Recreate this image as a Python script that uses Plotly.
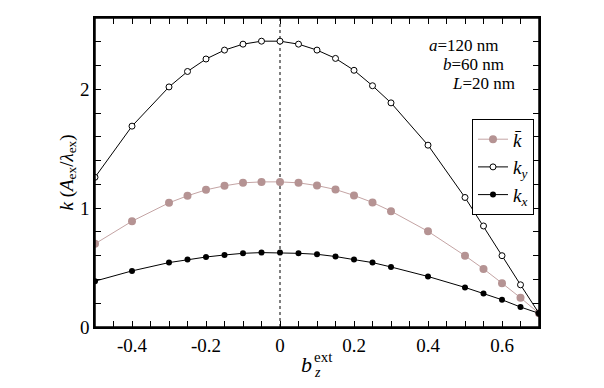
import plotly.graph_objects as go

bz = [-0.5, -0.4, -0.3, -0.25, -0.2, -0.15, -0.1, -0.05, 0.0, 0.05, 0.1, 0.15,
      0.2, 0.25, 0.3, 0.4, 0.5, 0.55, 0.6, 0.65, 0.7]
k_bar = [0.70, 0.89, 1.045, 1.104, 1.154, 1.188, 1.213, 1.221, 1.221, 1.213, 1.19, 1.157,
         1.107, 1.048, 0.975, 0.805, 0.60, 0.489, 0.369, 0.246, 0.115]
k_y = [1.26, 1.69, 2.02, 2.15, 2.255, 2.33, 2.38, 2.405, 2.405, 2.38, 2.33, 2.26,
       2.16, 2.03, 1.886, 1.53, 1.09, 0.85, 0.60, 0.355, 0.115]
k_x = [0.386, 0.472, 0.542, 0.567, 0.589, 0.606, 0.62, 0.626, 0.626, 0.62, 0.612, 0.593,
       0.567, 0.542, 0.505, 0.425, 0.333, 0.282, 0.229, 0.168, 0.115]

# tick positions (every 0.05 on x, every 0.2 on y); labels only on the major ones
x_tickvals = [-0.45, -0.4, -0.35, -0.3, -0.25, -0.2, -0.15, -0.1, -0.05, 0, 0.05, 0.1,
              0.15, 0.2, 0.25, 0.3, 0.35, 0.4, 0.45, 0.5, 0.55, 0.6, 0.65]
x_ticktext = ["", "-0.4", "", "", "", "-0.2", "", "", "", "0", "", "",
              "", "0.2", "", "", "", "0.4", "", "", "", "0.6", ""]
y_tickvals = [0, 0.2, 0.4, 0.6, 0.8, 1, 1.2, 1.4, 1.6, 1.8, 2, 2.2, 2.4]
y_ticktext = ["0", "", "", "", "", "1", "", "", "", "", "2", "", ""]

SERIF = "Liberation Serif"

# page has an 8px body margin; the figure is sized to fit inside 604x388
PAGE_OFF = 8
L, T, PW, PH = 95 - PAGE_OFF, 16 - PAGE_OFF, 444, 311
W, H = 604 - 2 * PAGE_OFF, 388 - 2 * PAGE_OFF


def px(xp):
    return (xp - 95) / PW


def py(yp):
    return (327 - yp) / PH


fig = go.Figure()
fig.add_trace(go.Scatter(
    x=bz, y=k_bar, mode="lines+markers", name="<i>k̄</i>",
    line=dict(color="#c4a4a4", width=1),
    marker=dict(color="#b59393", size=8, line=dict(width=0)),
))
fig.add_trace(go.Scatter(
    x=bz, y=k_y, mode="lines+markers", name="<i>k<sub>y</sub></i>",
    line=dict(color="black", width=1),
    marker=dict(color="white", size=6, symbol="circle", line=dict(color="black", width=1)),
))
fig.add_trace(go.Scatter(
    x=bz, y=k_x, mode="lines+markers", name="<i>k<sub>x</sub></i>",
    line=dict(color="black", width=1),
    marker=dict(color="black", size=6, line=dict(width=0)),
))

fig.add_shape(type="line", x0=0, x1=0, y0=0, y1=1, xref="x", yref="paper",
              line=dict(color="black", width=1, dash="dot"), layer="below")
# plot frame
fig.add_shape(type="rect", x0=0, x1=1, y0=0, y1=1, xref="paper", yref="paper",
              line=dict(color="black", width=1.5), fillcolor="rgba(0,0,0,0)", layer="above")

axis_common = dict(
    showline=True, linecolor="black", linewidth=1.5, mirror="allticks",
    ticks="inside", ticklen=6, tickcolor="black", tickwidth=1,
    showgrid=False, zeroline=False,
    tickfont=dict(family=SERIF, size=19, color="black"),
)
fig.update_xaxes(range=[-0.5, 0.7], tickmode="array", tickvals=x_tickvals,
                 ticktext=x_ticktext, **axis_common)
fig.update_yaxes(range=[0, 2.6], tickmode="array", tickvals=y_tickvals,
                 ticktext=y_ticktext, **axis_common)

ann_font = dict(family=SERIF, size=17, color="black")
fig.add_annotation(text="<i>a</i>=120 nm", x=px(428), y=py(44), xref="paper", yref="paper",
                   xanchor="left", yanchor="middle", showarrow=False, font=ann_font, borderpad=0)
fig.add_annotation(text="<i>b</i>=60 nm", x=px(442), y=py(63), xref="paper", yref="paper",
                   xanchor="left", yanchor="middle", showarrow=False, font=ann_font, borderpad=0)
fig.add_annotation(text="<i>L</i>=20 nm", x=px(451), y=py(82), xref="paper", yref="paper",
                   xanchor="left", yanchor="middle", showarrow=False, font=ann_font, borderpad=0)

# axis titles
fig.add_annotation(text="<i>k</i> (<i>A</i><sub>ex</sub>/<i>λ</i><sub>ex</sub>)",
                   x=px(67), y=0.5, xref="paper", yref="paper", textangle=-90,
                   xanchor="center", yanchor="middle", showarrow=False,
                   font=dict(family=SERIF, size=19, color="black"))
fig.add_annotation(text="<i>b</i>", x=px(306), y=py(365),
                   xref="paper", yref="paper", xanchor="center", yanchor="middle",
                   showarrow=False, font=dict(family=SERIF, size=22, color="black"))
fig.add_annotation(text="ext", x=px(312), y=py(357),
                   xref="paper", yref="paper", xanchor="left", yanchor="middle",
                   showarrow=False, font=dict(family=SERIF, size=15, color="black"))
fig.add_annotation(text="<i>z</i>", x=px(312), y=py(373),
                   xref="paper", yref="paper", xanchor="left", yanchor="middle",
                   showarrow=False, font=dict(family=SERIF, size=14, color="black"))

fig.update_layout(
    width=W, height=H,
    margin=dict(l=L, r=W - L - PW, t=T, b=H - T - PH),
    paper_bgcolor="white", plot_bgcolor="white",
    showlegend=True,
    legend=dict(x=px(472), y=py(118), xanchor="left", yanchor="top",
                bordercolor="black", borderwidth=1, bgcolor="white",
                font=dict(family=SERIF, size=19, color="black"),
                itemwidth=30, tracegroupgap=0),
    font=dict(family=SERIF, color="black"),
)

fig.write_html("out.html")
